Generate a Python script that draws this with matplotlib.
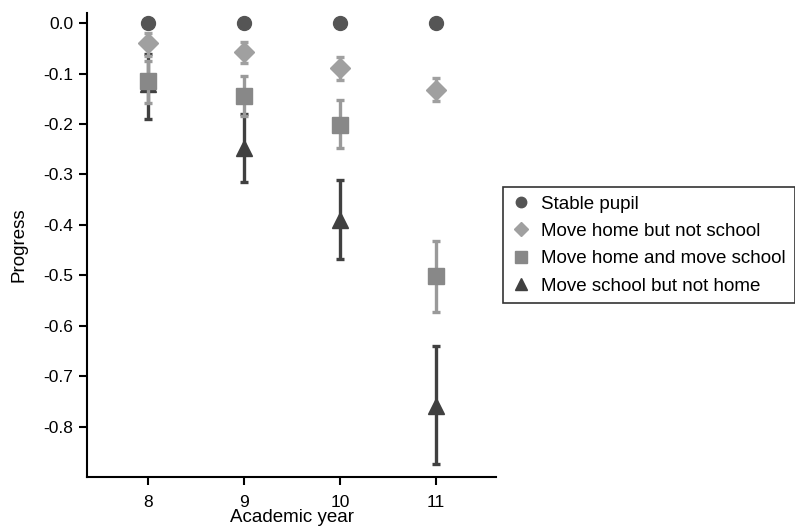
import numpy as np
import matplotlib
matplotlib.use("Agg")
import matplotlib.pyplot as plt

plt.rcParams['font.family'] = ['Liberation Sans', 'DejaVu Sans']

# === DATA ===
years = [8, 9, 10, 11]

stable = [0.0, 0.0, 0.0, 0.0]

home_only = [-0.04, -0.058, -0.09, -0.132]
home_only_lo = [-0.065, -0.080, -0.112, -0.155]
home_only_hi = [-0.020, -0.038, -0.067, -0.108]

home_school = [-0.115, -0.145, -0.202, -0.502]
home_school_lo = [-0.158, -0.185, -0.248, -0.573]
home_school_hi = [-0.076, -0.105, -0.152, -0.432]

school_only = [-0.12, -0.248, -0.39, -0.76]
school_only_lo = [-0.190, -0.316, -0.468, -0.875]
school_only_hi = [-0.062, -0.180, -0.312, -0.640]

labels = ["Stable pupil", "Move home but not school",
          "Move home and move school", "Move school but not home"]


def err(v, lo, hi):
    v, lo, hi = np.array(v), np.array(lo), np.array(hi)
    return np.vstack([v - lo, hi - v])


# === PLOT ===
fig = plt.figure(figsize=(7.95, 5.29), dpi=100)
ax = fig.add_axes([87 / 795, 1 - 477 / 529, (496 - 87) / 795, (477 - 13) / 529])

ebkw = dict(elinewidth=2.4, capsize=3.2, capthick=2.4)
h1, = ax.plot(years, stable, 'o', color='#555555', ms=10, zorder=5)
h2 = ax.errorbar(years, home_only, yerr=err(home_only, home_only_lo, home_only_hi),
                 fmt='D', color='#a0a0a0', ms=10, zorder=4, **ebkw)
h3 = ax.errorbar(years, home_school, yerr=err(home_school, home_school_lo, home_school_hi),
                 fmt='s', color='#888888', ecolor='#9a9a9a', ms=12, zorder=3, **ebkw)
h4 = ax.errorbar(years, school_only, yerr=err(school_only, school_only_lo, school_only_hi),
                 fmt='^', color='#404040', ms=12, zorder=2, **ebkw)

ax.set_xlim(7.36, 11.63)
ax.set_ylim(-0.9, 0.02)
ax.set_xticks(years)
yt = np.round(np.arange(0, -0.81, -0.1), 1)
ax.set_yticks(yt)
ax.set_yticklabels(["0.0"] + ["-%.1f" % abs(v) for v in yt[1:]])

for s in ['top', 'right']:
    ax.spines[s].set_visible(False)
for s in ['left', 'bottom']:
    ax.spines[s].set_linewidth(1.5)
ax.tick_params(direction='out', length=6, width=1.5, labelsize=12.5)
ax.tick_params(axis='y', pad=4)
ax.tick_params(axis='x', pad=7)

ax.set_xlabel("Academic year", fontsize=13.5, labelpad=-1)
ax.set_ylabel("Progress", fontsize=13.5, labelpad=11)

leg = fig.legend([h1, h2[0], h3[0], h4[0]], labels,
                 loc='upper left', bbox_to_anchor=(503 / 795, 1 - 187 / 529),
                 fontsize=13.5, frameon=True, fancybox=False, edgecolor='black',
                 handlelength=1.0, handletextpad=0.6, borderpad=0.45,
                 labelspacing=0.55, markerscale=0.75, borderaxespad=0)
leg.get_frame().set_linewidth(1.2)

fig.savefig("out.png", dpi=100)
